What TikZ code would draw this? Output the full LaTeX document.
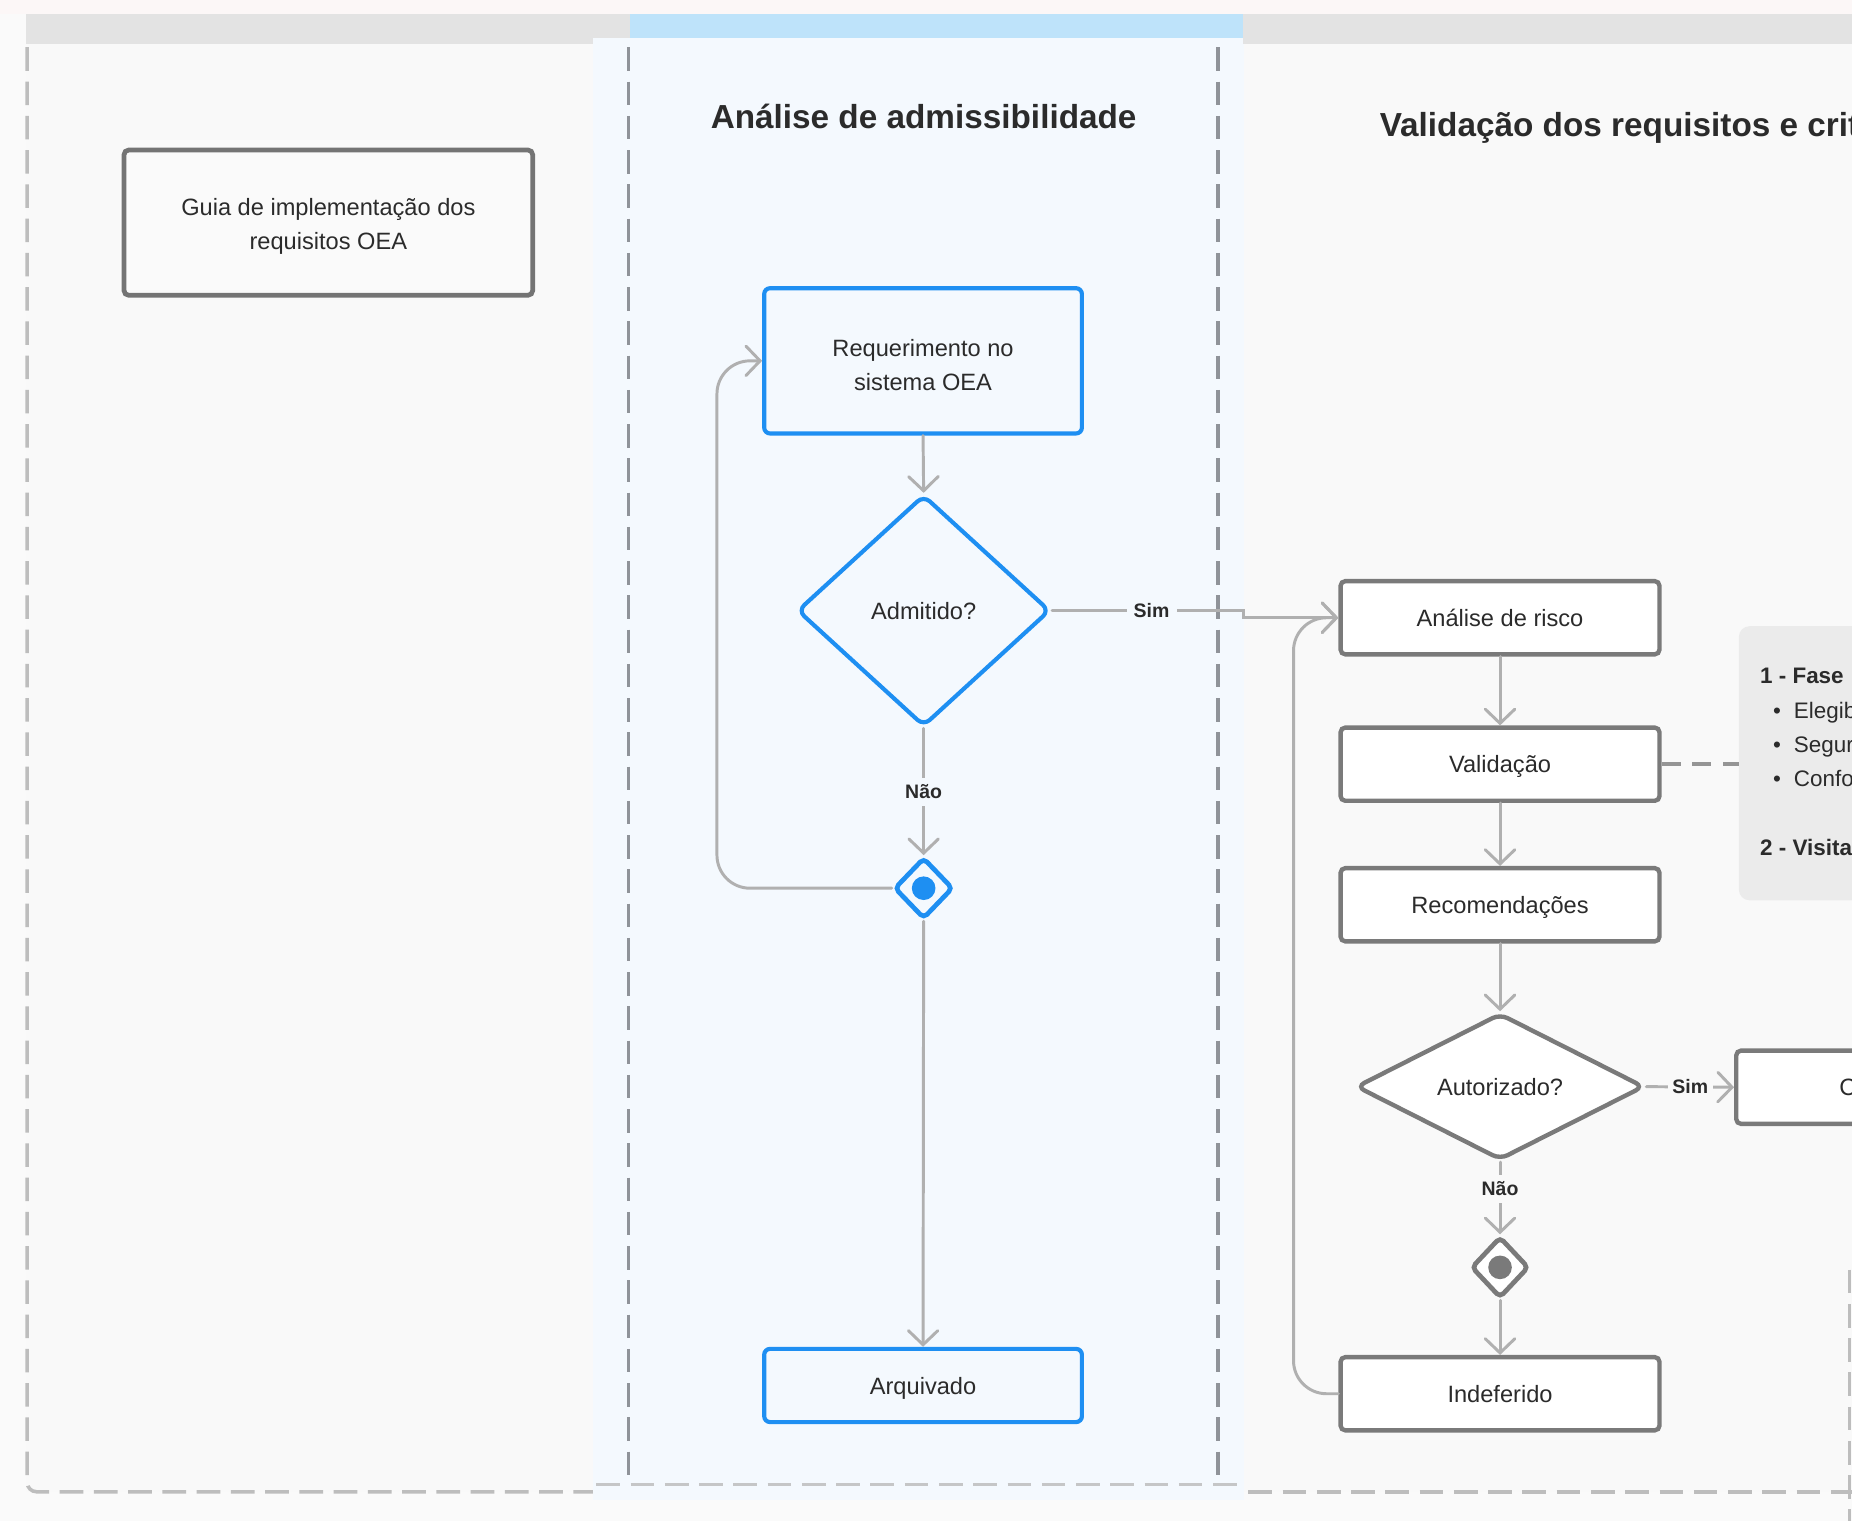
\documentclass[tikz,border=0pt]{standalone}
\usepackage{fontspec}
\setmainfont{Liberation Sans}
\usetikzlibrary{arrows.meta,shapes.geometric,calc}
\definecolor{pagebg}{HTML}{FAFAFA}
\definecolor{topstrip}{HTML}{FCF7F7}
\definecolor{lanebg}{HTML}{F9F9F9}
\definecolor{lanetwobg}{HTML}{F4F9FE}
\definecolor{hdrgray}{HTML}{E3E3E3}
\definecolor{hdrblue}{HTML}{BEE3FA}
\definecolor{dashgray}{HTML}{BDBDBD}
\definecolor{dashdark}{HTML}{8F9399}
\definecolor{boxgray}{HTML}{7A7A7A}
\definecolor{conncol}{HTML}{B0B0B0}
\definecolor{flowblue}{HTML}{1E8FF2}
\definecolor{txt}{HTML}{2B2B2B}
\definecolor{notebg}{HTML}{EBEBEB}
\begin{document}
\begin{tikzpicture}[x=1pt,y=-1pt,
  bodyfont/.style={font={\fontsize{20}{29}\selectfont}},
  graybox/.style={draw=boxgray, line width=3.7pt, fill=white, rounded corners=4pt,
    minimum width=270pt, minimum height=62pt, inner sep=0pt, text=txt, align=center, bodyfont,
    text height=18.5pt, text depth=4pt},
  bluebox/.style={draw=flowblue, line width=3.5pt, fill=lanetwobg, rounded corners=5pt,
    minimum width=269pt, minimum height=62pt, inner sep=0pt, text=txt, align=center, bodyfont,
    text height=18.5pt, text depth=4pt},
  twoline/.style={text height=, text depth=},
  decis/.style={diamond, line width=3.5pt, rounded corners=7pt, inner sep=0pt, text=txt, bodyfont},
  mergept/.style={diamond, line width=4pt, rounded corners=4pt, inner sep=0pt, minimum width=50pt, minimum height=52pt},
  dotpt/.style={circle, inner sep=0pt, minimum size=20pt},
  conn/.style={draw=conncol, line width=2.5pt, line cap=round,
    -{Straight Barb[length=12pt,width=25pt,line cap=round]}},
  lbl/.style={font={\fontsize{16.5}{20}\selectfont\bfseries}, text=txt, inner sep=6pt},
  titletxt/.style={font={\fontsize{28.2}{34}\selectfont\bfseries}, text=txt},
  notetxt/.style={font={\fontsize{19}{24}\selectfont}, text=txt, inner sep=0pt, anchor=west,
    text height=14pt, text depth=4pt},
  lanedash/.style={draw=dashgray, line width=3pt, dash pattern=on 20pt off 9pt},
  lanedark/.style={draw=dashdark, line width=3pt, dash pattern=on 20pt off 9pt},
]
\useasboundingbox (0,0) rectangle (1568,1288);
\clip (0,0) rectangle (1568,1288);
% backgrounds
\fill[pagebg] (0,0) rectangle (1568,1288);
\fill[topstrip] (0,0) rectangle (1568,12);
\fill[lanebg] (22,37) rectangle (502,1263);
\fill[lanebg] (1053,37) rectangle (1568,1263);
\fill[hdrgray] (22,12) rectangle (533,37);
\fill[lanetwobg] (502,32) rectangle (1053,1270);
\fill[hdrblue] (533,12) rectangle (1052,32);
\fill[hdrgray] (1052,12) rectangle (1568,37);
% lane borders
\draw[lanedash, rounded corners=8pt] (23,40) -- (23,1263) -- (502,1263);
\draw[draw=dashgray!85!lanetwobg, line width=3pt, dash pattern=on 20pt off 9pt] (505,1257) -- (1050,1257);
\draw[lanedark] (532,40) -- (532,1257);
\draw[lanedark] (1031,40) -- (1031,1257);
\draw[lanedash] (1057,1263) -- (1568,1263);
\draw[lanedash] (1566,1075) -- (1566,1288);
% titles
\node[titletxt] (t2) at (782,99) {Análise de admissibilidade};
\node[titletxt, anchor=west, inner sep=0pt] (t3) at (1168,108) {Validação dos requisitos e critérios};
% lane 1
\node[graybox, twoline, line width=4pt, draw=boxgray!95!black, fill=pagebg, minimum width=346pt, minimum height=123pt] (guia) at (278,188.5) {\rule{0pt}{21pt}Guia de implementação dos\\requisitos OEA};
% lane 2
\node[bluebox, twoline, minimum height=123pt] (req) at (781.5,305.5) {\rule{0pt}{21pt}Requerimento no\\sistema OEA};
\node[decis, draw=flowblue, fill=lanetwobg, minimum width=214pt, minimum height=196pt] (adm) at (782,517) {Admitido?};
\node[mergept, draw=flowblue, fill=lanetwobg] (mA) at (782,752) {};
\node[dotpt, fill=flowblue] (mAdot) at (782,752) {};
\node[bluebox] (arq) at (781.5,1173) {Arquivado};
% lane 3
\node[graybox] (ar) at (1270,523) {Análise de risco};
\node[graybox] (val) at (1270,647) {Validação};
\node[graybox] (rec) at (1270,766) {Recomendações};
\node[decis, draw=boxgray, line width=3.7pt, fill=white, minimum width=244pt, minimum height=124pt] (aut) at (1270,920) {Autorizado?};
\node[mergept, draw=boxgray, fill=white, minimum width=49pt, minimum height=52pt] (mB) at (1270,1073) {};
\node[dotpt, fill=boxgray] (mBdot) at (1270,1073) {};
\node[graybox] (ind) at (1270,1180) {Indeferido};
\node[graybox] (cert) at (1605,920.5) {Certificado};
% note
\node[fill=notebg, rounded corners=9pt, anchor=north west, minimum width=200pt, minimum height=232pt, inner sep=0pt] (note) at (1472,530) {};
\node[notetxt] (n1) at (1490,574) {\textbf{1 - Fase}};
\node[notetxt] (n2) at (1501,603) {•\hspace{11pt}Elegibilidade};
\node[notetxt] (n3) at (1501,632) {•\hspace{11pt}Segurança};
\node[notetxt] (n4) at (1501,661) {•\hspace{11pt}Conformidade};
\node[notetxt] (n5) at (1490,719) {\textbf{2 - Visita}};
% connectors lane 2
\draw[conn] (req.south) -- (adm.north);
\draw[conn] (adm.south) -- node[lbl, fill=lanetwobg, pos=0.5] (nao1) {Não} (mA.north);
\draw[conn, rounded corners=28pt] (mA.west) -- ++(-148,0) |- (req.west);
\draw[conn] (mA.south) -- (arq.north);
\draw[conn] (adm.east) -- node[lbl, fill=lanetwobg, pos=0.52] (sim1) {Sim} ++(162,0) |- (ar.west);
% connectors lane 3
\draw[conn, rounded corners=28pt] (ind.west) -- ++(-38,0) |- (ar.west);
\draw[conn] (ar.south) -- (val.north);
\draw[conn] (val.south) -- (rec.north);
\draw[conn] (rec.south) -- (aut.north);
\draw[conn] (aut.south) -- node[lbl, fill=lanebg, pos=0.37] (nao2) {Não} (mB.north);
\draw[conn] (mB.south) -- (ind.north);
\draw[conn] (aut.east) -- node[lbl, fill=lanebg, pos=0.5, inner sep=4pt] (sim2) {Sim} (cert.west);
\draw[draw=boxgray!80, line width=3pt, dash pattern=on 16pt off 10pt] (val.east) -- (val.east -| note.west);
\end{tikzpicture}
\end{document}
